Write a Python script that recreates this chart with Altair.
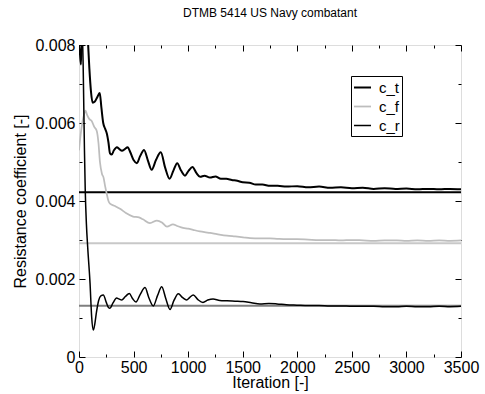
import altair as alt
import pandas as pd

FONT = "Liberation Sans"
chart_title = "DTMB 5414 US Navy combatant"
x_title = "Iteration [-]"
y_title = "Resistance coefficient [-]"
series_names = ["c_t", "c_f", "c_r"]

ct_iter = [0, 8, 18, 28, 55, 82, 95, 110, 125, 145, 165, 190, 205, 222, 240, 256, 270, 284,
           300, 320, 347, 370, 394, 420, 446, 470, 500, 530, 560, 596, 630, 666, 705, 749,
           790, 830, 865, 900, 935, 971, 1005, 1040, 1075, 1110, 1150, 1200, 1250, 1300,
           1350, 1400, 1450, 1500, 1560, 1620, 1680, 1750, 1820, 1900, 2000, 2100, 2200,
           2300, 2400, 2500, 2600, 2700, 2800, 2900, 3000, 3100, 3200, 3300, 3400, 3500]
ct_val = [0.0080, 0.0078, 0.0075, 0.0085, 0.0095, 0.0081, 0.0074, 0.0068, 0.00652, 0.00655,
          0.00665, 0.00677, 0.0064, 0.0060, 0.00585, 0.00572, 0.0055, 0.00522,
          0.00519, 0.00530, 0.00538, 0.00533, 0.00529, 0.00533, 0.00538, 0.00525, 0.00505,
          0.00497, 0.00515, 0.00531, 0.00505, 0.00480, 0.00505, 0.00525,
          0.00485, 0.00457, 0.00478, 0.00497, 0.00478, 0.00465, 0.00478, 0.00487, 0.00472,
          0.00462, 0.00465, 0.00460, 0.00463, 0.00457,
          0.00457, 0.00454, 0.00452, 0.00448, 0.00447, 0.00442, 0.00442, 0.00439, 0.00439,
          0.00437, 0.00438, 0.00435, 0.00437,
          0.00434, 0.00435, 0.00433, 0.00434, 0.00431, 0.00433, 0.00431, 0.00432, 0.00430,
          0.00431, 0.00430, 0.00431, 0.00430]

cf_iter = [0, 15, 30, 45, 60, 75, 95, 116, 140, 162, 178, 192, 210, 225, 238, 253, 270, 284,
           330, 376, 430, 495, 550, 586, 650, 714, 760, 806, 861, 900, 953, 1000, 1045, 1108,
           1150, 1200, 1264, 1356, 1430, 1503, 1567, 1658, 1750, 1814, 1900, 1997, 2100,
           2200, 2300, 2400, 2500, 2602, 2700, 2800, 2913, 3000, 3100, 3200, 3300, 3400, 3500]
cf_val = [0.0053, 0.0057, 0.0060, 0.0062, 0.00632, 0.0062, 0.0061, 0.00605, 0.0059, 0.0058,
          0.0055, 0.0050, 0.0047, 0.0046, 0.00440, 0.00420, 0.00400, 0.00393,
          0.00387, 0.00380, 0.00369, 0.00360, 0.00358, 0.00353, 0.00343, 0.00350, 0.00345,
          0.00334, 0.00340, 0.00336, 0.00331, 0.00329, 0.00326, 0.00322,
          0.00320, 0.00318, 0.00315, 0.00311, 0.00309, 0.00307, 0.00305, 0.00304, 0.00304,
          0.00303, 0.00302, 0.00302, 0.00301,
          0.00300, 0.00300, 0.00299, 0.00300, 0.00299, 0.00298, 0.00299, 0.00299, 0.00298,
          0.00299, 0.00298, 0.00299, 0.00298, 0.00299]

cr_iter = [0, 12, 25, 33, 38, 44, 50, 57, 68, 80, 101, 116, 131, 145, 160, 180, 200, 223,
           250, 270, 284, 310, 345, 365, 391, 425, 461, 490, 522, 560, 605, 640, 681, 720,
           758, 795, 834, 870, 910, 950, 986, 1015, 1047, 1090, 1136, 1180, 1228, 1290,
           1356, 1430, 1503, 1580, 1658, 1740, 1814, 1900, 1997, 2100, 2200, 2300, 2400,
           2500, 2600, 2700, 2800, 2913, 3000, 3100, 3200, 3300, 3400, 3500]
cr_val = [0.0078, 0.0084, 0.0087, 0.0081, 0.0075, 0.0064, 0.0053, 0.0043, 0.0034, 0.0028,
          0.0019, 0.00103, 0.00069, 0.00085, 0.00115, 0.00145, 0.00157, 0.00159,
          0.00140, 0.00127, 0.00125, 0.00138, 0.00151, 0.00149, 0.00146, 0.00155, 0.00163,
          0.00150, 0.00141, 0.00160, 0.00178, 0.00152, 0.00131, 0.00158,
          0.00180, 0.00150, 0.00122, 0.00145, 0.00162, 0.00152, 0.00146, 0.00153, 0.00159,
          0.00147, 0.00140, 0.00146, 0.00149, 0.00145,
          0.00144, 0.00143, 0.00142, 0.00139, 0.00136, 0.00137, 0.00136, 0.00134, 0.00133,
          0.00132, 0.00132, 0.00131, 0.00131,
          0.00130, 0.00130, 0.00130, 0.00129, 0.00129, 0.00130, 0.00129, 0.00129, 0.00130,
          0.00129, 0.00130]

ref_vals = [0.004223, 0.002915, 0.001316]
ref_colors = ["black", "#c8c8c8", "#7f7f7f"]

x_tick_values = [0, 250, 500, 750, 1000, 1250, 1500, 1750, 2000, 2250, 2500, 2750, 3000, 3250, 3500]
y_tick_values = [0.0, 0.001, 0.002, 0.003, 0.004, 0.005, 0.006, 0.007, 0.008]

rows = []
for name, its, vals in zip(series_names, [ct_iter, cf_iter, cr_iter], [ct_val, cf_val, cr_val]):
    for i, v in zip(its, vals):
        rows.append({"iteration": i, "value": v, "series": name})
df = pd.DataFrame(rows)

xs = alt.Scale(domain=[0, 3500], nice=False, zero=False)
ys = alt.Scale(domain=[0, 0.008], nice=False)

x_major = "datum.value % 500 === 0"
y_major = "round(datum.value * 1000) % 2 === 0"

common_axis = dict(domain=False, grid=False, tickColor="black", tickWidth=1,
                   labelFont=FONT, labelColor="black", labelFontSize=16,
                   titleFont=FONT, titleColor="black", titleFontSize=16,
                   titleFontWeight="normal", labelOverlap=False)

bottom_axis = alt.Axis(orient="bottom", values=x_tick_values, title=x_title,
                       tickSize={"condition": {"test": x_major, "value": -6}, "value": -3},
                       labelExpr=f"{x_major} ? format(datum.value, 'd') : ''",
                       labelFlush=False, labelPadding=8, titlePadding=-4, **common_axis)
left_axis = alt.Axis(orient="left", values=y_tick_values, title=y_title,
                     tickSize={"condition": {"test": y_major, "value": -6}, "value": -3},
                     labelExpr=f"{y_major} ? format(datum.value, '.3~f') : ''",
                     labelFlush=False, labelPadding=10, titlePadding=6, **common_axis)
top_axis = alt.Axis(orient="top", values=x_tick_values, title=None, labels=False,
                    tickSize={"condition": {"test": x_major, "value": -6}, "value": -3},
                    **common_axis)
right_axis = alt.Axis(orient="right", values=y_tick_values, title=None, labels=False,
                      tickSize={"condition": {"test": y_major, "value": -6}, "value": -3},
                      **common_axis)

legend = alt.Legend(title=None, orient="none", legendX=272, legendY=31, padding=2,
                    strokeColor="black", fillColor="white", cornerRadius=0,
                    symbolType="stroke", symbolSize=289, labelFont=FONT, labelFontSize=15,
                    labelColor="black", labelOffset=7, rowPadding=1)

lines = alt.Chart(df).mark_line(clip=True, interpolate="monotone").encode(
    x=alt.X("iteration:Q", scale=xs, axis=bottom_axis),
    y=alt.Y("value:Q", scale=ys, axis=left_axis),
    color=alt.Color("series:N", scale=alt.Scale(domain=series_names, range=["black", "#bdbdbd", "black"]),
                    legend=legend),
    strokeWidth=alt.StrokeWidth("series:N", scale=alt.Scale(domain=series_names, range=[2, 1.5, 1]),
                                legend=legend),
    detail="series:N",
)

carrier = alt.Chart(df).mark_line(strokeOpacity=0, clip=True).encode(
    x=alt.X("iteration:Q", scale=xs, axis=top_axis),
    y=alt.Y("value:Q", scale=ys, axis=right_axis),
    detail="series:N",
)

rule_layers = []
for v, c in zip(ref_vals, ref_colors):
    rule_layers.append(
        alt.Chart(pd.DataFrame({"value": [v]})).mark_rule(color=c, strokeWidth=2).encode(
            y=alt.Y("value:Q", scale=ys, axis=None)
        )
    )

chart = alt.layer(*rule_layers, lines, carrier).resolve_axis(
    x="independent", y="independent"
).properties(
    width=382, height=312,
    padding={"left": 79, "top": 45, "right": 24, "bottom": 37},
    autosize=alt.AutoSizeParams(type="none"),
    title=alt.TitleParams(chart_title, font=FONT, fontSize=12, fontWeight="normal",
                          color="black", anchor="middle", offset=17),
).configure_view(
    stroke="black", strokeWidth=1.5
).configure(background="white")

chart.save("out.html", embed_options={"renderer": "svg", "actions": False})
